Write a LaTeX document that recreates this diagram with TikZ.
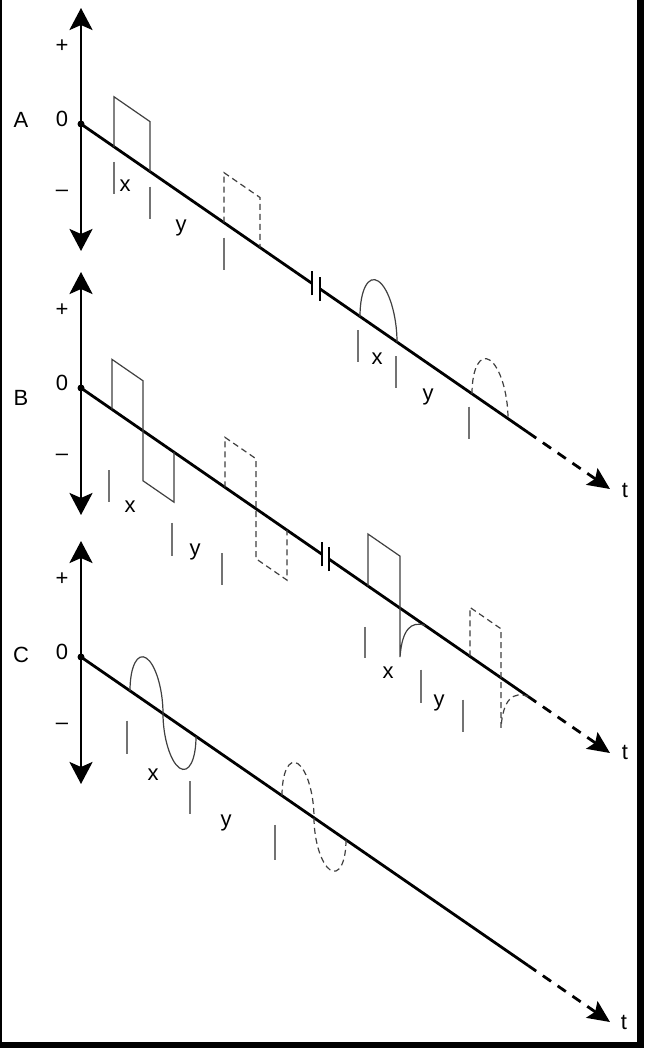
\documentclass[tikz,border=0pt]{standalone}
\usepackage{fontspec}
\setmainfont{Liberation Sans}
\usepackage{tikz}
\usetikzlibrary{arrows.meta}
\tikzset{lbl/.style={inner sep=0pt,font=\fontsize{11}{13}\selectfont}}

\begin{document}
\begin{tikzpicture}[x=0.5pt, y=0.5pt,
  axis/.style={line width=1.4pt, {Stealth[length=11pt,width=11.5pt,inset=2.5pt]}-{Stealth[length=11pt,width=11.5pt,inset=2.5pt]}},
  timeline/.style={line width=1.4pt},
  future/.style={line width=1.4pt, dash pattern=on 5pt off 4pt, -{Stealth[length=11pt,width=10pt,inset=2pt]}},
  brk/.style={line width=1.3pt},
  pulse/.style={line width=0.6pt, draw=black!75},
  dpulse/.style={pulse, dash pattern=on 3pt off 2pt},
  tick/.style={line width=0.8pt, draw=black!55}]
\fill[black] (0,0) rectangle (644,-1048);
\fill[white] (1.5,-0.5) rectangle (637,-1042);
\useasboundingbox (0,0) rectangle (644,-1048);

% axes and their labels
\foreach \p/\oy/\ny in {A/124/4,B/388/-10,C/657/2}{
  \begin{scope}[shift={(81,-\oy)}]
    \coordinate (\p up) at (0,116);
    \coordinate (\p down) at (0,-127);
    \draw[axis] (\p down) -- (\p up);
    \fill (0,0) circle (3.5);
    \node[lbl] (\p name) at (-60,\ny) {\p};
    \node[lbl] (\p plus) at (-19,78) {+};
    \node[lbl] (\p zero) at (-19,5) {0};
    \node[lbl] (\p minus) at (-19,-69) {--};
  \end{scope}
}

% A
\begin{scope}[shift={(81,-124)}, yslant=-0.69]
  \coordinate (A0) at (0,0);
  \coordinate (Ab1) at (231,0);
  \coordinate (Ab2) at (239,0);
  \coordinate (Aend) at (447,0);
  \coordinate (Atip) at (529,0);
  \draw[timeline] (A0) -- (Ab1);
  \draw[timeline] (Ab2) -- (Aend);
  \draw[future] (Aend) -- (Atip);
  \draw[brk] (231,-12) -- (231,12);
  \draw[brk] (239,-12) -- (239,12);
  \draw[pulse] (33,0) -- (33,50) -- (69,50) -- (69,0);
  \draw[dpulse] (143,0) -- (143,50) -- (179,50) -- (179,0);
  \draw[pulse] (279,0) arc[start angle=180, end angle=0, x radius=18.5, y radius=48];
  \draw[dpulse] (391,0) arc[start angle=180, end angle=0, x radius=18, y radius=46];
  \foreach \u in {33,69,143,277,315,388} \draw[tick] (\u,-15) -- (\u,-47);
  \node[lbl] (Ax1) at (44,-31) {x};
  \node[lbl] (Ay1) at (100,-35) {y};
  \node[lbl] (Ax2) at (296,-30) {x};
  \node[lbl] (Ay2) at (347,-34) {y};
\end{scope}
\node[lbl] (At) at (625,-490) {t};

% B
\begin{scope}[shift={(81,-388)}, yslant=-0.69]
  \coordinate (B0) at (0,0);
  \coordinate (Bb1) at (241,0);
  \coordinate (Bb2) at (248,0);
  \coordinate (Bend) at (447,0);
  \coordinate (Btip) at (529,0);
  \draw[timeline] (B0) -- (Bb1);
  \draw[timeline] (Bb2) -- (Bend);
  \draw[future] (Bend) -- (Btip);
  \draw[brk] (241,-12) -- (241,12);
  \draw[brk] (248,-12) -- (248,12);
  \draw[pulse] (31,0) -- (31,50) -- (62,50) -- (62,-50) -- (93,-50) -- (93,0);
  \draw[dpulse] (144,0) -- (144,50) -- (175,50) -- (175,-50) -- (206,-50) -- (206,0);
  \draw[pulse] (287,0) -- (287,52) -- (319,52) -- (319,-49) .. controls (321,-20) and (330,-5) .. (344,0);
  \draw[dpulse] (389,0) -- (389,49) -- (420,49) -- (420,-50) .. controls (422,-20) and (432,-5) .. (447,0);
  \foreach \u/\a/\b in {28/63/95,91/72/105,141/68/100,284/43/74,340/47/80,382/48/80}
    \draw[tick] (\u,-\a) -- (\u,-\b);
  \node[lbl] (Bx1) at (49,-85) {x};
  \node[lbl] (By1) at (114,-85) {y};
  \node[lbl] (Bx2) at (307,-73) {x};
  \node[lbl] (By2) at (358,-68) {y};
\end{scope}
\node[lbl] (Bt) at (625,-752) {t};

% C
\begin{scope}[shift={(81,-657)}, yslant=-0.69]
  \coordinate (C0) at (0,0);
  \coordinate (Cend) at (447,0);
  \coordinate (Ctip) at (529,0);
  \draw[timeline] (C0) -- (Cend);
  \draw[future] (Cend) -- (Ctip);
  \draw[pulse] (49,0) arc[start angle=180, end angle=0, x radius=16.5, y radius=44]
    arc[start angle=180, end angle=360, x radius=16.5, y radius=43];
  \draw[dpulse] (201,0) arc[start angle=180, end angle=0, x radius=16, y radius=43]
    arc[start angle=180, end angle=360, x radius=16, y radius=41];
  \foreach \u/\a/\b in {46/32/65,109/49/82,194/34/69}
    \draw[tick] (\u,-\a) -- (\u,-\b);
  \node[lbl] (Cx1) at (72,-68) {x};
  \node[lbl] (Cy1) at (145,-66) {y};
\end{scope}
\node[lbl] (Ct) at (624,-1022) {t};
\end{tikzpicture}
\end{document}
